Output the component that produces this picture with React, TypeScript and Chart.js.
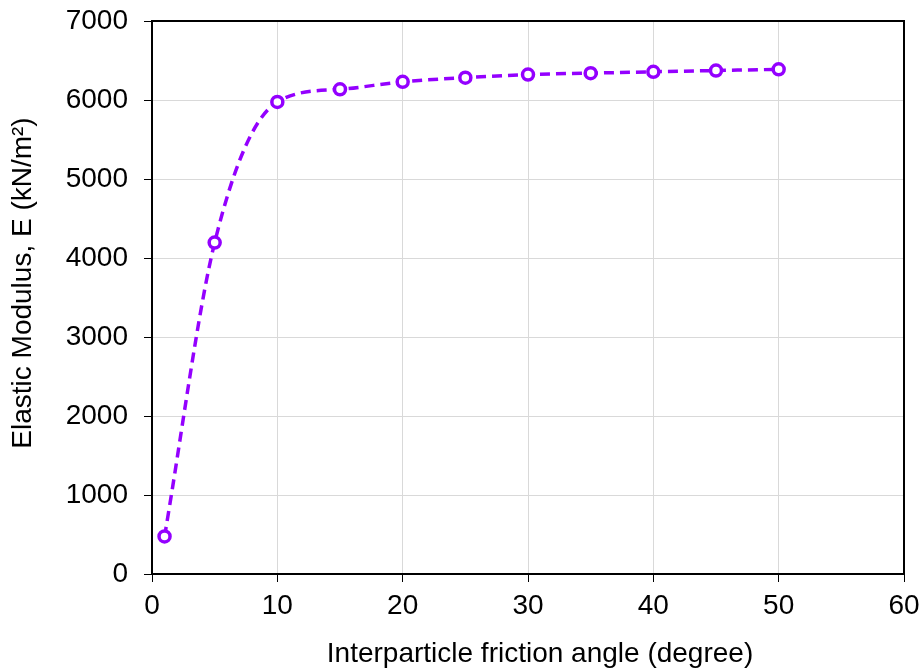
import React, { useEffect, useRef } from "react";
import { Chart, registerables } from "chart.js";

Chart.register(...registerables);

const frictionAngles = [1, 5, 10, 15, 20, 25, 30, 35, 40, 45, 50];
const elasticModulus = [475, 4195, 5975, 6135, 6230, 6283, 6322, 6340, 6357, 6373, 6388];
const xTitle = "Interparticle friction angle (degree)";
const yTitle = "Elastic Modulus, E (kN/m\u00B2)";

const LINE_COLOR = "#9400FF";
const FONT = "'Liberation Sans', Arial, sans-serif";
const FS = 28;

const frame = {
  id: "frame",
  afterDraw(chart: any) {
    const { ctx, chartArea } = chart;
    ctx.save();
    ctx.strokeStyle = "#000";
    ctx.lineWidth = 2;
    ctx.beginPath();
    ctx.moveTo(chartArea.left, chartArea.top);
    ctx.lineTo(chartArea.right, chartArea.top);
    ctx.lineTo(chartArea.right, chartArea.bottom);
    ctx.stroke();

    // axis titles
    ctx.fillStyle = "#000";
    ctx.font = `${FS}px ${FONT}`;
    ctx.textAlign = "center";
    ctx.textBaseline = "middle";
    ctx.fillText(xTitle, 540, 654);
    ctx.translate(23, 283);
    ctx.rotate(-Math.PI / 2);
    ctx.fillText(yTitle, 0, 0);
    ctx.restore();
  },
};

export default function App() {
  const ref = useRef<HTMLCanvasElement>(null);
  useEffect(() => {
    if (!ref.current) return;
    const chart = new Chart(ref.current, {
      type: "line",
      data: {
        datasets: [
          {
            data: frictionAngles.map((x, i) => ({ x, y: elasticModulus[i] })),
            borderColor: LINE_COLOR,
            borderWidth: 3.5,
            borderDash: [10, 6],
            cubicInterpolationMode: "monotone",
            tension: 0.4,
            pointRadius: 5.5,
            pointBorderWidth: 3.5,
            pointBackgroundColor: "#fff",
            pointBorderColor: LINE_COLOR,
            fill: false,
          },
        ],
      },
      options: {
        animation: false,
        responsive: false,
        layout: { padding: { top: 21, right: 17, left: 0, bottom: 0 } },
        plugins: { legend: { display: false }, tooltip: { enabled: false } },
        scales: {
          x: {
            type: "linear",
            min: 0,
            max: 60,
            ticks: { stepSize: 10, color: "#000", font: { family: FONT, size: FS }, padding: 7 },
            grid: { color: "#d9d9d9", tickColor: "#000", tickLength: 8, lineWidth: 1 },
            border: { color: "#000", width: 2 },
            title: { display: false, text: xTitle },
            afterFit: (s: any) => { s.height = 98; s.paddingLeft = 0; s.paddingRight = 0; },
          },
          y: {
            min: 0,
            max: 7000,
            ticks: {
              stepSize: 1000,
              color: "#000",
              font: { family: FONT, size: FS },
              padding: 16,
              callback: (v: any) => String(v),
            },
            grid: { color: "#d9d9d9", tickColor: "#000", tickLength: 8, lineWidth: 1 },
            border: { color: "#000", width: 2 },
            title: { display: false, text: yTitle },
            afterFit: (s: any) => { s.width = 152; s.paddingTop = 0; s.paddingBottom = 0; },
          },
        },
      },
      plugins: [frame],
    });
    return () => chart.destroy();
  }, []);
  return (
    <div style={{ position: "absolute", left: 0, top: 0, width: 921, height: 672, background: "#fff" }}>
      <canvas ref={ref} width={921} height={672} style={{ display: "block", width: 921, height: 672 }} />
    </div>
  );
}
